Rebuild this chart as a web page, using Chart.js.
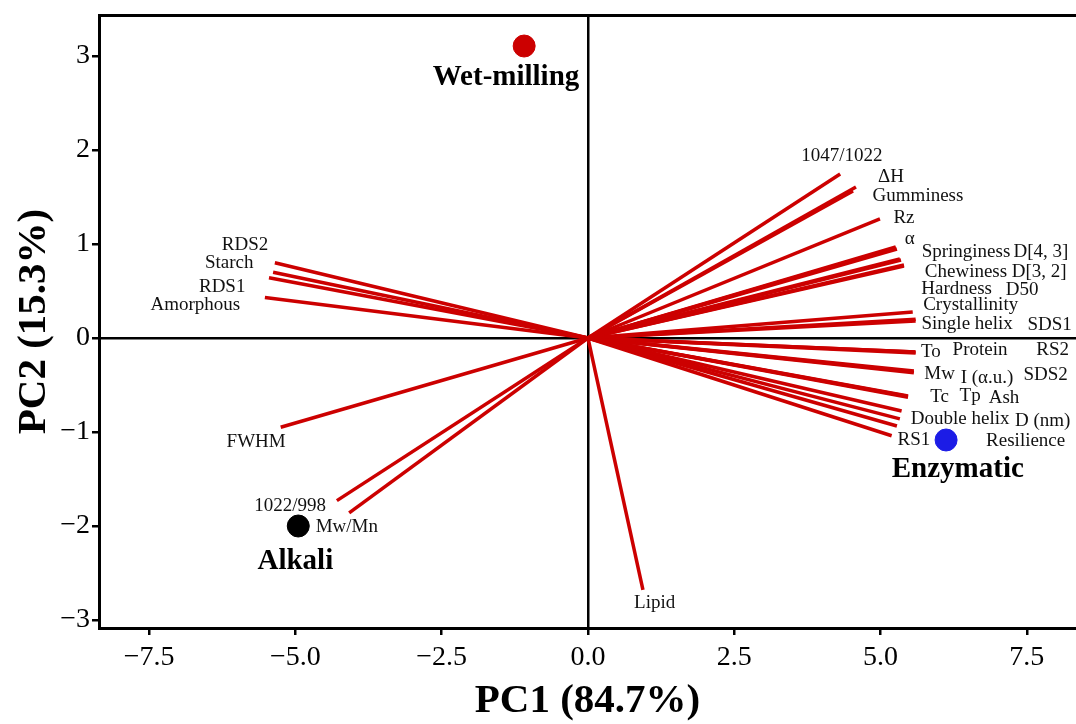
<!DOCTYPE html>
<html>
<head>
<meta charset="utf-8">
<script src="https://cdn.jsdelivr.net/npm/chart.js@4.4.1/dist/chart.umd.min.js"></script>
<style>
html,body{margin:0;padding:0;background:#fff;}
#wrap{width:1076px;height:724px;}
</style>
</head>
<body>
<div id="wrap"><canvas id="c" width="1076" height="724"></canvas></div>
<script>
// ---- Data ----
const varNames = ["1047/1022","ΔH","Gumminess","Rz","α","Springiness","D[4, 3]","Chewiness","D[3, 2]","Hardness","D50","Crystallinity","Single helix","SDS1","To","Protein","RS2","Mw","I (α.u.)","SDS2","Tc","Tp","Ash","Double helix","D (nm)","Resilience","RS1","RDS2","Starch","RDS1","Amorphous","FWHM","1022/998","Mw/Mn","Lipid"];
const varPC1 = [4.31,4.58,4.53,4.99,5.26,5.26,5.28,5.33,5.35,5.40,5.40,5.55,5.60,5.60,5.60,5.59,5.60,5.57,5.57,5.55,5.47,5.47,5.45,5.36,5.33,5.28,5.19,-5.35,-5.38,-5.45,-5.52,-5.25,-4.29,-4.08,0.94];
const varPC2 = [1.745,1.606,1.564,1.266,0.968,0.957,0.947,0.84,0.83,0.766,0.777,0.277,0.18,0.20,-0.149,-0.15,-0.16,-0.35,-0.37,-0.36,-0.617,-0.63,-0.62,-0.777,-0.86,-0.936,-1.04,0.80,0.70,0.64,0.43,-0.95,-1.73,-1.86,-2.68];
const labelPC1 = [4.34,5.18,5.64,5.40,5.50,6.46,7.74,6.46,7.71,6.30,7.42,6.54,6.48,7.89,5.86,6.70,7.94,6.01,6.82,7.82,6.01,6.53,7.11,6.36,7.77,7.48,5.57,-5.86,-6.13,-6.25,-6.71,-5.67,-5.09,-4.12,1.14];
const labelPC2 = [1.936,1.713,1.51,1.277,1.053,0.915,0.915,0.70,0.70,0.52,0.51,0.35,0.15,0.138,-0.149,-0.128,-0.128,-0.383,-0.426,-0.394,-0.628,-0.617,-0.638,-0.862,-0.883,-1.096,-1.085,0.989,0.798,0.543,0.351,-1.106,-1.787,-2.01,-2.82];

const groupNames = ["Wet-milling","Alkali","Enzymatic"];
const groupPC1 = [-1.09,-4.95,6.12];
const groupPC2 = [3.106,-2.0,-1.085];
const groupLabelPC1 = [-1.40,-5.0,6.32];
const groupLabelPC2 = [2.766,-2.383,-1.394];
const groupColors = ["#CC0000","#000000","#1C1CE6"];

const xTicks = [-7.5,-5.0,-2.5,0.0,2.5,5.0,7.5];
const yTicks = [-3,-2,-1,0,1,2,3];
const xRange = [-8.355, 8.34];
const yRange = [-3.085, 3.436];

// ---- Build datasets ----
const datasets = [];
varNames.forEach((n,i)=>{
  datasets.push({
    type:'line', label:n,
    data:[{x:0,y:0},{x:varPC1[i],y:varPC2[i]}],
    borderColor:'#CC0000', borderWidth:3.5, pointRadius:0, fill:false,
    borderCapStyle:'butt', order:2
  });
});
groupNames.forEach((n,i)=>{
  datasets.push({
    type:'scatter', label:n,
    data:[{x:groupPC1[i],y:groupPC2[i]}],
    backgroundColor:groupColors[i], borderColor:groupColors[i],
    pointRadius:11, pointHoverRadius:11, order:1
  });
});

const fmtMinus = (v,d)=> (v<0?'\u2212':'') + Math.abs(v).toFixed(d);

const textPlugin = {
  id:'texts',
  afterDatasetsDraw(chart){
    const {ctx, scales:{x,y}} = chart;
    ctx.save();
    ctx.textAlign='center'; ctx.textBaseline='middle';
    ctx.fillStyle='#111';
    ctx.font='19px "Liberation Serif", "Times New Roman", serif';
    varNames.forEach((n,i)=>{
      ctx.fillText(n, x.getPixelForValue(labelPC1[i]), y.getPixelForValue(labelPC2[i]));
    });
    ctx.fillStyle='#000';
    ctx.font='bold 29px "Liberation Serif", "Times New Roman", serif';
    groupNames.forEach((n,i)=>{
      ctx.fillText(n, x.getPixelForValue(groupLabelPC1[i]), y.getPixelForValue(groupLabelPC2[i]));
    });
    ctx.restore();
  }
};

const tickFont = {family:'"Liberation Serif", "Times New Roman", serif', size:28};
const titleFont = {family:'"Liberation Serif", "Times New Roman", serif', size:41, weight:'bold', lineHeight:1.1};
const noPad = s=>{ s.paddingLeft=0; s.paddingRight=0; s.paddingTop=0; s.paddingBottom=0; };

new Chart(document.getElementById('c'), {
  data:{datasets},
  options:{
    responsive:false, animation:false,
    layout:{autoPadding:false, padding:{top:15,left:0,right:0,bottom:0}},
    plugins:{legend:{display:false}, tooltip:{enabled:false}},
    scales:{
      x:{
        type:'linear', position:'bottom', min:xRange[0], max:xRange[1],
        afterBuildTicks:s=>{ s.ticks = xTicks.map(v=>({value:v})); },
        afterFit:s=>{ s.height = 96; noPad(s); },
        ticks:{font:tickFont, color:'#000', padding:6, callback:v=>fmtMinus(v,1)},
        grid:{drawOnChartArea:true, color:c=> (c.tick && c.tick.value===0)?'#000':'rgba(0,0,0,0)', lineWidth:2.5, tickColor:'#000', tickLength:7, tickWidth:2.5},
        border:{display:true, color:'#000', width:3},
        title:{display:true, text:'PC1 (84.7%)', font:titleFont, color:'#000', padding:{top:0,bottom:0}}
      },
      x2:{
        type:'linear', position:'top', min:xRange[0], max:xRange[1],
        afterFit:s=>{ s.height = 0; noPad(s); },
        ticks:{display:false}, grid:{display:false},
        border:{display:true, color:'#000', width:3}
      },
      y:{
        type:'linear', position:'left', min:yRange[0], max:yRange[1],
        afterBuildTicks:s=>{ s.ticks = yTicks.map(v=>({value:v})); },
        afterFit:s=>{ s.width = 99; noPad(s); },
        ticks:{font:tickFont, color:'#000', padding:2, callback:v=>fmtMinus(v,0)},
        grid:{drawOnChartArea:true, color:c=> (c.tick && c.tick.value===0)?'#000':'rgba(0,0,0,0)', lineWidth:2.5, tickColor:'#000', tickLength:7, tickWidth:2.5},
        border:{display:true, color:'#000', width:3},
        title:{display:true, text:'PC2 (15.3%)', font:titleFont, color:'#000', padding:{top:12,bottom:0}}
      }
    }
  },
  plugins:[textPlugin]
});
</script>
</body>
</html>
